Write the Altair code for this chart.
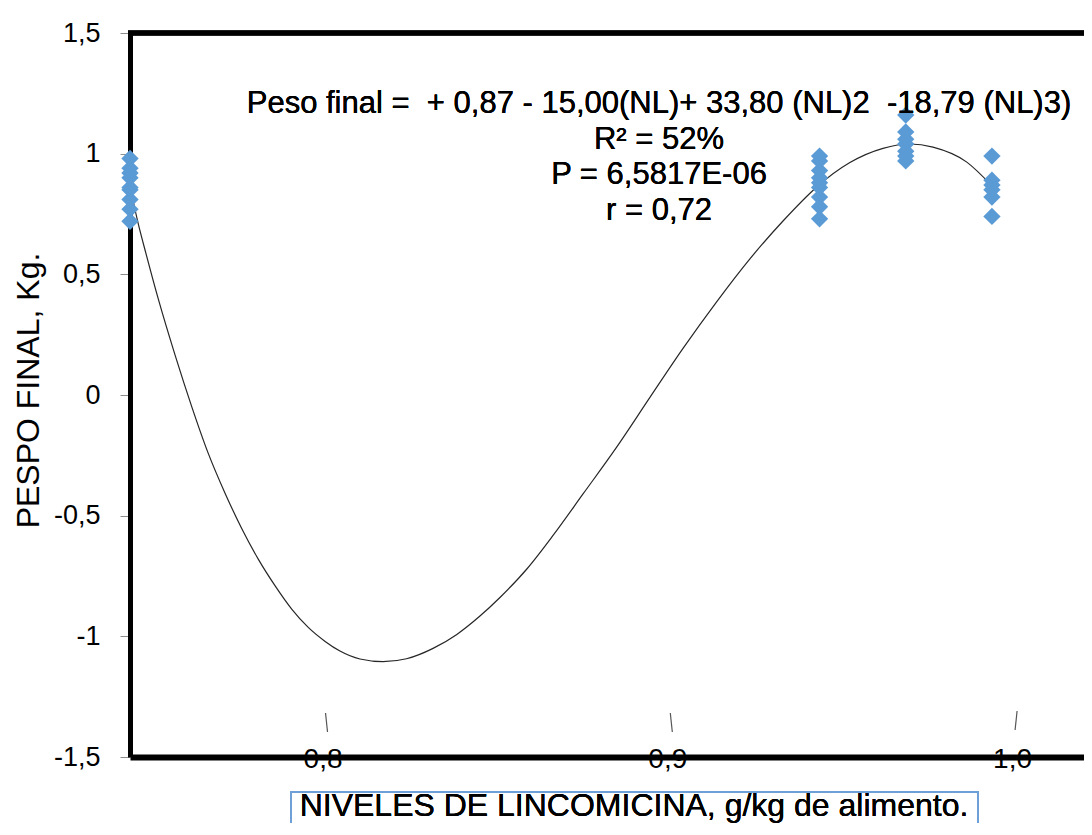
import altair as alt
import pandas as pd

# ---- data ----
levels = [0.743, 0.943, 0.968, 0.993]
peso_level1 = [0.98, 0.94, 0.92, 0.90, 0.86, 0.85, 0.81, 0.77, 0.72]
peso_level2 = [0.99, 0.97, 0.93, 0.90, 0.88, 0.86, 0.82, 0.78, 0.73]
peso_level3 = [1.16, 1.09, 1.06, 1.04, 1.01, 0.99, 0.97]
peso_level4 = [0.99, 0.89, 0.87, 0.85, 0.82, 0.74]

curve_x = [0.7430, 0.7453, 0.7476, 0.7512, 0.7561, 0.7609, 0.7657, 0.7706,
           0.7754, 0.7802, 0.7851, 0.7899, 0.7947, 0.7996, 0.8039, 0.8097,
           0.8164, 0.8232, 0.8309, 0.8378, 0.8445, 0.8503, 0.8581, 0.8657,
           0.8744, 0.8842, 0.8938, 0.9034, 0.9132, 0.9228, 0.9324, 0.9422,
           0.9518, 0.9614, 0.9692, 0.9759, 0.9857, 0.9929]
curve_y = [0.868, 0.715, 0.588, 0.398, 0.164, -0.048, -0.242, -0.408,
           -0.553, -0.680, -0.791, -0.887, -0.963, -1.021, -1.061, -1.094,
           -1.105, -1.093, -1.050, -0.992, -0.916, -0.839, -0.721, -0.582,
           -0.410, -0.215, -0.010, 0.193, 0.387, 0.564, 0.721, 0.862,
           0.963, 1.022, 1.040, 1.027, 0.965, 0.868]

x_ticks = [0.8, 0.9, 1.0]
y_ticks = [-1.5, -1.0, -0.5, 0.0, 0.5, 1.0, 1.5]

equation_lines = [
    "Peso final = \u00a0+ 0,87 - 15,00(NL)+ 33,80 (NL)2 \u00a0-18,79 (NL)3)",
    "R\u00b2 = 52%",
    "P = 6,5817E-06",
    "r = 0,72",
]
x_title = "NIVELES DE LINCOMICINA, g/kg de alimento."
y_title = "PESPO FINAL, Kg."

# ---- tables ----
rows = []
for lv, vals in zip(levels, [peso_level1, peso_level2, peso_level3, peso_level4]):
    for v in vals:
        rows.append({"nl": lv, "peso": v})
points_df = pd.DataFrame(rows)
curve_df = pd.DataFrame({"nl": curve_x, "peso": curve_y})
ticks_df = pd.DataFrame({"nl": x_ticks})

W, H = 954, 724
FONT = "Liberation Sans"

x_scale = alt.Scale(domain=[0.743, 1.0197], nice=False, zero=False)
y_scale = alt.Scale(domain=[-1.5, 1.5], nice=False, zero=False)

x_axis = alt.Axis(
    values=x_ticks, title=None, grid=False, ticks=False, tickSize=0,
    domainColor="black", domainWidth=6,
    labelExpr="replace(format(datum.value, '.1f'), '.', ',')",
    labelFontSize=28, labelColor="black", labelFont=FONT,
    labelBaseline="middle", labelPadding=2, labelOffset=-4,
)
y_axis = alt.Axis(
    values=y_ticks, title=y_title, grid=False,
    domainColor="black", domainWidth=5,
    tickColor="#8c8c8c", tickSize=10, tickWidth=1,
    labelExpr="replace(datum.value + '', '.', ',')",
    labelFontSize=27, labelColor="black", labelFont=FONT, labelPadding=20,
    titleFontSize=32, titleFont=FONT, titleFontWeight="normal", titleColor="black",
    titleX=-102, titleY=357, titleAngle=270, titleAlign="center", titleBaseline="middle",
)

curve = alt.Chart(curve_df).mark_line(
    color="#262626", strokeWidth=1.2, interpolate="monotone", clip=True
).encode(
    x=alt.X("nl:Q", scale=x_scale, axis=x_axis),
    y=alt.Y("peso:Q", scale=y_scale, axis=y_axis),
)

pts = alt.Chart(points_df).mark_point(
    shape="diamond", filled=True, size=300, color="#5B9BD5", opacity=1
).encode(
    x=alt.X("nl:Q", scale=x_scale),
    y=alt.Y("peso:Q", scale=y_scale),
)

tick_marks_a = alt.Chart(ticks_df).transform_filter("datum.nl < 0.95").mark_rule(
    color="#555555", strokeWidth=1.2, xOffset=-1, x2Offset=1
).encode(
    x=alt.X("nl:Q", scale=x_scale), x2="nl:Q",
    y=alt.value(680), y2=alt.value(699),
)
tick_marks_b = alt.Chart(ticks_df).transform_filter("datum.nl > 0.95").mark_rule(
    color="#555555", strokeWidth=1.2, xOffset=1, x2Offset=-1
).encode(
    x=alt.X("nl:Q", scale=x_scale), x2="nl:Q",
    y=alt.value(678), y2=alt.value(697),
)

top_border = alt.Chart(ticks_df).mark_rule(color="black", strokeWidth=5).encode(
    x=alt.value(-2), x2=alt.value(W), y=alt.value(0)
)

equation = alt.Chart(ticks_df).mark_text(
    text=equation_lines, font=FONT, fontSize=31, color="black",
    align="center", baseline="middle", lineHeight=35.5,
).encode(x=alt.value(529), y=alt.value(71))

title_box = alt.Chart(ticks_df).mark_rect(
    fill="white", stroke="#6E9FD6", strokeWidth=2
).encode(x=alt.value(161), x2=alt.value(848), y=alt.value(759), y2=alt.value(812))

title_text = alt.Chart(ticks_df).mark_text(
    text=x_title, font=FONT, fontSize=32,
    color="black", align="center", baseline="alphabetic",
).encode(x=alt.value(504), y=alt.value(783))

chart = alt.layer(
    curve, tick_marks_a, tick_marks_b, pts, top_border, equation, title_box, title_text
).properties(
    width=W, height=H,
    autosize=alt.AutoSizeParams(type="none"),
    padding={"left": 122, "top": 25, "right": 0, "bottom": 66},
).configure_view(stroke=None).configure(font=FONT)

chart.save("out.html", embed_options={"renderer": "svg", "actions": False})
